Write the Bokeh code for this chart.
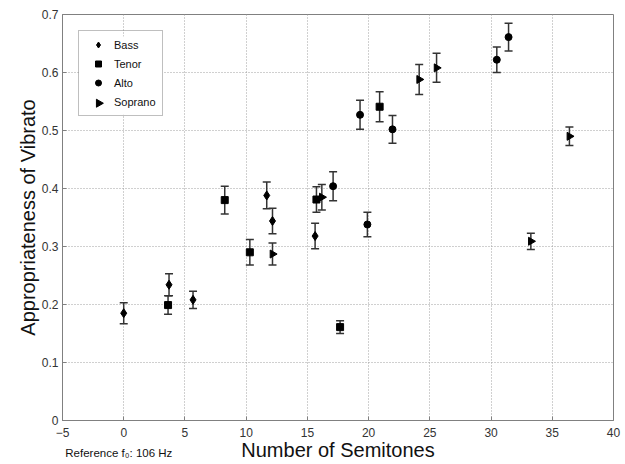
import math
from bokeh.plotting import figure
from bokeh.models import (ColumnDataSource, Whisker, TeeHead, Range1d, FixedTicker,
                          Legend, LinearAxis, BoxAnnotation)
from bokeh.embed import file_html
from bokeh.resources import INLINE

# Data
bass_x = [0.0, 3.7, 5.66, 11.68, 12.15, 15.63]
bass_y = [0.185, 0.234, 0.208, 0.388, 0.344, 0.318]
bass_e = [0.018, 0.019, 0.015, 0.023, 0.022, 0.022]

tenor_x = [3.62, 8.25, 10.3, 15.74, 17.67, 20.9]
tenor_y = [0.199, 0.38, 0.29, 0.381, 0.161, 0.541]
tenor_e = [0.016, 0.024, 0.022, 0.022, 0.011, 0.026]

alto_x = [17.1, 19.3, 19.9, 21.95, 30.47, 31.43]
alto_y = [0.404, 0.527, 0.338, 0.502, 0.622, 0.661]
alto_e = [0.025, 0.025, 0.021, 0.024, 0.022, 0.024]

soprano_x = [12.15, 16.18, 24.13, 25.55, 33.25, 36.4]
soprano_y = [0.287, 0.385, 0.588, 0.608, 0.309, 0.49]
soprano_e = [0.019, 0.022, 0.026, 0.025, 0.014, 0.016]

x_ticks = [-5, 0, 5, 10, 15, 20, 25, 30, 35, 40]
y_ticks = [0, 0.1, 0.2, 0.3, 0.4, 0.5, 0.6, 0.7]

note_text = "Reference f\u2080: 106 Hz"
note_x = -0.4                       # centre of the note text, in semitone units
legend_tri_xy = (-2.04, 0.547)      # where the legend's Soprano glyph sits
legend_bg = (-3.62, 3.22, 0.527, 0.662)  # white backing behind the legend (left, right, bottom, top)

FONT = "Liberation Sans"

p = figure(width=625, height=464, output_backend="svg", toolbar_location=None,
           x_range=Range1d(-5, 40), y_range=Range1d(0, 0.7),
           min_border_left=62, min_border_right=12, min_border_top=14, min_border_bottom=44)
p.background_fill_color = "white"
p.border_fill_color = "white"
p.outline_line_color = "#808080"
p.outline_line_width = 1

for ax in (p.xaxis[0], p.yaxis[0]):
    ax.axis_line_color = "#808080"
    ax.major_tick_line_color = "#808080"
    ax.major_tick_in = 4
    ax.major_tick_out = 0
    ax.minor_tick_line_color = None
    ax.major_label_text_font = FONT
    ax.major_label_text_font_size = "12px"
    ax.major_label_text_color = "#333333"
    ax.axis_label_text_font = FONT
    ax.axis_label_text_font_size = "20px"
    ax.axis_label_text_font_style = "normal"
    ax.axis_label_text_color = "#111111"

p.xaxis.ticker = FixedTicker(ticks=x_ticks)
p.yaxis.ticker = FixedTicker(ticks=y_ticks)
p.yaxis.major_label_overrides = {0: "0"}
p.yaxis.axis_label = "Appropriateness of Vibrato"
p.xaxis.major_label_standoff = 7
p.yaxis.major_label_standoff = 4
p.yaxis.axis_label_standoff = 0

# second, bare axis carrying the note and the x title on one line
ax2 = LinearAxis(ticker=FixedTicker(ticks=[note_x]),
                 major_label_overrides={note_x: note_text})
ax2.axis_line_color = None
ax2.major_tick_line_color = None
ax2.minor_tick_line_color = None
ax2.major_label_text_font = FONT
ax2.major_label_text_font_size = "11.5px"
ax2.major_label_text_color = "#111111"
ax2.major_label_standoff = 1
ax2.axis_label = "Number of Semitones"
ax2.axis_label_text_font = FONT
ax2.axis_label_text_font_size = "20px"
ax2.axis_label_text_font_style = "normal"
ax2.axis_label_text_color = "#111111"
ax2.axis_label_standoff = -23
p.add_layout(ax2, "below")

for g in (p.xgrid[0], p.ygrid[0]):
    g.grid_line_color = "#a0a0a0"
    g.grid_line_dash = "1 2"
    g.grid_line_width = 1

# opaque backing for the (transparent) legend, so grid lines do not show through it
p.add_layout(BoxAnnotation(left=legend_bg[0], right=legend_bg[1],
                           bottom=legend_bg[2], top=legend_bg[3],
                           fill_color="white", fill_alpha=1, line_color=None,
                           level="underlay"))

series = [
    ("Bass", bass_x, bass_y, bass_e, "diamond", 9, 0.0),
    ("Tenor", tenor_x, tenor_y, tenor_e, "square", 7, 0.0),
    ("Alto", alto_x, alto_y, alto_e, "circle", 7, 0.0),
    ("Soprano", soprano_x, soprano_y, soprano_e, "triangle", 8, -math.pi / 2),
]

items = []
for name, xs, ys, es, marker, size, ang in series:
    src = ColumnDataSource(dict(x=xs, y=ys,
                                lo=[y - e for y, e in zip(ys, es)],
                                hi=[y + e for y, e in zip(ys, es)]))
    w = Whisker(base="x", upper="hi", lower="lo", source=src, dimension="height",
                line_color="#333333", line_width=1.5,
                upper_head=TeeHead(size=8, line_color="#333333", line_width=1.5),
                lower_head=TeeHead(size=8, line_color="#333333", line_width=1.5))
    p.add_layout(w)
    r = p.scatter("x", "y", source=src, marker=marker, size=size, angle=ang,
                  fill_color="black", line_color="black")
    if name == "Soprano":
        # legend glyphs ignore angle: invisible proxy in the legend, right-pointing mark drawn beneath it
        proxy = p.scatter(x=[], y=[], marker="triangle", size=size, fill_alpha=0, line_alpha=0)
        items.append((name, [proxy]))
        p.scatter(x=[legend_tri_xy[0]], y=[legend_tri_xy[1]], marker=marker, size=size,
                  angle=ang, fill_color="black", line_color="black")
    else:
        items.append((name, [r]))

legend = Legend(items=items, location=(16, 304))
legend.border_line_color = "#808080"
legend.border_line_width = 1
legend.background_fill_alpha = 0
legend.label_text_font = FONT
legend.label_text_font_size = "11px"
legend.label_text_color = "#111111"
legend.glyph_height = 15
legend.glyph_width = 26
legend.label_height = 15
legend.spacing = 4
legend.padding = 6
legend.margin = 0
legend.label_standoff = 3
p.add_layout(legend, "center")

open("out.html", "w").write(file_html(p, INLINE))
